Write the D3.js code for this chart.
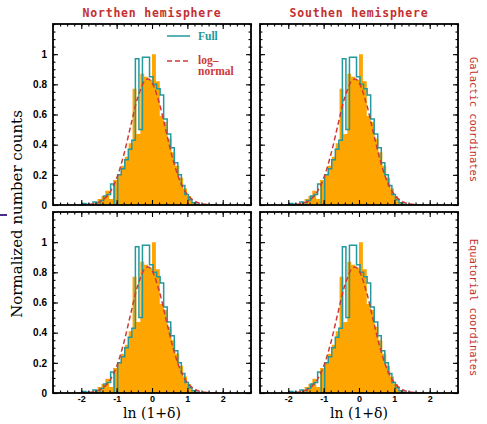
<!DOCTYPE html>
<html>
<head>
<meta charset="utf-8">
<script src="https://cdn.jsdelivr.net/npm/d3@7"></script>
<style>
  body { margin: 0; background: #fff; }
  svg { display: block; }
</style>
</head>
<body>
<svg id="chart" width="487" height="424"></svg>
<script>
// ---- data ---------------------------------------------------------------
// filled histogram: left bin edges in ln(1+delta) and normalized counts
const fillBinWidth = 0.11;
const fillEdges = [-1.87, -1.76, -1.65, -1.54, -1.43, -1.32, -1.21, -1.10, -0.99, -0.88,
                   -0.77, -0.66, -0.55, -0.44, -0.33, -0.22, -0.11, 0.00, 0.11, 0.22,
                   0.33, 0.44, 0.55, 0.66, 0.77, 0.88, 0.99, 1.10, 1.21];
const fillCounts = [0, 0, 0.01, 0.04, 0.06, 0.095, 0.04, 0.165, 0.20, 0.26,
                    0.32, 0.41, 0.77, 0.47, 0.87, 0.85, 0.83, 1.00, 0.82, 0.59,
                    0.55, 0.44, 0.35, 0.26, 0.18, 0.11, 0.06, 0.02, 0.005];

// "Full" step histogram
const stepBinWidth = 0.1;
const stepEdges = [-2.07, -1.97, -1.87, -1.77, -1.67, -1.57, -1.47, -1.37, -1.27, -1.17,
                   -1.07, -0.97, -0.87, -0.77, -0.67, -0.57, -0.47, -0.37, -0.27, -0.17,
                   -0.07, 0.03, 0.13, 0.23, 0.33, 0.43, 0.53, 0.63, 0.73, 0.83,
                   0.93, 1.03, 1.13, 1.23];
const stepCounts = [0, 0.01, 0.005, 0, 0.02, 0, 0.03, 0.06, 0.07, 0.14,
                    0, 0.20, 0.24, 0.30, 0.37, 0.43, 0.97, 0.50, 0.98, 0.98,
                    0.85, 0.80, 0.77, 0.73, 0.57, 0.47, 0.38, 0.28, 0.20, 0.13,
                    0.07, 0.035, 0.015, 0.005];

// log-normal fit
const curveX = [-2.0, -1.8, -1.6, -1.4, -1.2, -1.0, -0.8, -0.6, -0.4, -0.2, -0.1,
                0.0, 0.2, 0.4, 0.6, 0.8, 1.0, 1.2, 1.4, 1.6, 1.8];
const curveY = [0.001, 0.003, 0.01, 0.031, 0.081, 0.177, 0.331, 0.527, 0.714, 0.824, 0.835,
                0.811, 0.68, 0.486, 0.296, 0.154, 0.068, 0.026, 0.008, 0.002, 0.0];

const xTicks = [-2, -1, 0, 1, 2];
const yTicks = [0, 0.2, 0.4, 0.6, 0.8, 1];
const columnTitles = ["Northen hemisphere", "Southen hemisphere"];
const rowTitles = ["Galactic coordinates", "Equatorial coordinates"];
const legendLabels = ["Full", ["log–", "normal"]];
const xLabel = "ln (1+δ)";
const yLabel = "Normalized number counts";

// ---- layout -------------------------------------------------------------
const colX = [53, 260];
const rowY = [24, 212];
const pw = 198, ph = 181;
const xDomain = [-2.8, 2.8];
const yDomain = [0, 1.2];

const ORANGE = "#ffa500";
const TEAL = "#23999c";
const RED = "#cc3a3a";
const TITLE_RED = "#c43030";

const svg = d3.select("#chart");

const x = d3.scaleLinear().domain(xDomain).range([0, pw]);
const y = d3.scaleLinear().domain(yDomain).range([ph, 0]);

const fillPts = fillEdges.map((e, i) => [e, fillCounts[i]])
  .concat([[fillEdges[fillEdges.length - 1] + fillBinWidth, 0]]);
const stepPts = [[stepEdges[0], 0]]
  .concat(stepEdges.map((e, i) => [e, stepCounts[i]]))
  .concat([[stepEdges[stepEdges.length - 1] + stepBinWidth, 0]]);
const curvePts = curveX.map((v, i) => [v, curveY[i]]);

const area = d3.area().curve(d3.curveStepAfter)
  .x(d => x(d[0])).y0(y(0)).y1(d => y(d[1]));
const stepLine = d3.line().curve(d3.curveStepAfter)
  .x(d => x(d[0])).y(d => y(d[1]));
const smooth = d3.line().curve(d3.curveCatmullRom)
  .x(d => x(d[0])).y(d => y(d[1]));

const xMinor = d3.range(-2.8, 2.81, 0.2).map(v => +v.toFixed(1));
const yMinor = d3.range(0, 1.201, 0.05).map(v => +v.toFixed(2));

function tickAxis(g, axisFn, scale, values, size) {
  g.call(axisFn(scale).tickValues(values).tickSize(-size).tickFormat(""))
    .call(s => s.select(".domain").remove())
    .call(s => s.selectAll("line").attr("stroke", "#000").attr("stroke-width", 1.1));
}

for (let r = 0; r < 2; r++) {
  for (let c = 0; c < 2; c++) {
    const g = svg.append("g").attr("transform", `translate(${colX[c]},${rowY[r]})`);
    const clipId = `clip-${r}-${c}`;
    g.append("clipPath").attr("id", clipId)
      .append("rect").attr("width", pw).attr("height", ph);
    const plot = g.append("g").attr("clip-path", `url(#${clipId})`);

    plot.append("path").attr("d", area(fillPts)).attr("fill", ORANGE);
    plot.append("path").attr("d", stepLine(stepPts))
      .attr("fill", "none").attr("stroke", TEAL).attr("stroke-width", 1.5);
    plot.append("path").attr("d", smooth(curvePts))
      .attr("fill", "none").attr("stroke", RED).attr("stroke-width", 1.5)
      .attr("stroke-dasharray", "5,3");

    // inward ticks on all four sides
    tickAxis(g.append("g").attr("transform", `translate(0,${ph})`), d3.axisBottom, x, xMinor, 2.5);
    tickAxis(g.append("g").attr("transform", `translate(0,${ph})`), d3.axisBottom, x, xTicks, 5);
    tickAxis(g.append("g"), d3.axisTop, x, xMinor, 2.5);
    tickAxis(g.append("g"), d3.axisTop, x, xTicks, 5);
    tickAxis(g.append("g"), d3.axisLeft, y, yMinor, 2.5);
    tickAxis(g.append("g"), d3.axisLeft, y, yTicks, 5);
    tickAxis(g.append("g").attr("transform", `translate(${pw},0)`), d3.axisRight, y, yMinor, 2.5);
    tickAxis(g.append("g").attr("transform", `translate(${pw},0)`), d3.axisRight, y, yTicks, 5);

    g.append("rect").attr("width", pw).attr("height", ph)
      .attr("fill", "none").attr("stroke", "#000").attr("stroke-width", 1.8);

    if (c === 0) {
      g.append("g")
        .call(d3.axisLeft(y).tickValues(yTicks).tickSize(0).tickPadding(6)
          .tickFormat(d => String(d)))
        .call(s => s.select(".domain").remove())
        .call(s => s.selectAll("text")
          .attr("font-family", "'Liberation Sans', Arial, sans-serif")
          .attr("font-weight", "bold").attr("font-size", 10).attr("fill", "#000"));
    }
    if (r === 1) {
      g.append("g").attr("transform", `translate(0,${ph})`)
        .call(d3.axisBottom(x).tickValues(xTicks).tickSize(0).tickPadding(2.5)
          .tickFormat(d => String(d)))
        .call(s => s.select(".domain").remove())
        .call(s => s.selectAll("text")
          .attr("font-family", "'Liberation Sans', Arial, sans-serif")
          .attr("font-weight", "bold").attr("font-size", 9).attr("fill", "#000"));
      g.append("text")
        .attr("x", pw / 2).attr("y", ph + 25)
        .attr("text-anchor", "middle")
        .attr("font-family", "'DejaVu Serif', serif").attr("font-size", 14)
        .attr("fill", "#000")
        .text(xLabel);
    }
    if (r === 0) {
      g.append("text")
        .attr("x", pw / 2).attr("y", -7.5)
        .attr("text-anchor", "middle")
        .attr("font-family", "'DejaVu Sans Mono', monospace").attr("font-weight", "bold")
        .attr("font-size", 11.5).attr("letter-spacing", 0.8)
        .attr("fill", TITLE_RED)
        .text(columnTitles[c]);
    }
    if (c === 1) {
      g.append("text")
        .attr("transform", `translate(${pw + 16},${ph / 2 + 5}) rotate(90)`)
        .attr("text-anchor", "middle").attr("dy", "0.35em")
        .attr("font-family", "'DejaVu Sans Mono', monospace")
        .attr("font-size", 10.4).attr("fill", TITLE_RED)
        .text(rowTitles[r]);
    }
    if (r === 0 && c === 0) {
      const lg = g.append("g");
      lg.append("line").attr("x1", 114).attr("x2", 137).attr("y1", 12).attr("y2", 12)
        .attr("stroke", TEAL).attr("stroke-width", 1.5);
      lg.append("text").attr("x", 145).attr("y", 15.5)
        .attr("font-family", "'Liberation Serif', serif").attr("font-weight", "bold")
        .attr("font-size", 11.5).attr("fill", TEAL).text(legendLabels[0]);
      lg.append("line").attr("x1", 114).attr("x2", 137).attr("y1", 37).attr("y2", 37)
        .attr("stroke", RED).attr("stroke-width", 1.5).attr("stroke-dasharray", "5,3");
      legendLabels[1].forEach((t, i) => {
        lg.append("text").attr("x", 145).attr("y", 39.5 + i * 11)
          .attr("font-family", "'Liberation Serif', serif").attr("font-weight", "bold")
          .attr("font-size", 11.5).attr("fill", RED).text(t);
      });
    }
  }
}

// shared y-axis title
svg.append("text")
  .attr("transform", "translate(17,214) rotate(-90)")
  .attr("text-anchor", "middle").attr("dy", "0.35em")
  .attr("font-family", "'DejaVu Serif', serif").attr("font-size", 15)
  .attr("fill", "#000")
  .text(yLabel);

// small mark at the left edge
svg.append("line").attr("x1", 0).attr("x2", 7).attr("y1", 215).attr("y2", 215)
  .attr("stroke", "#4a2a8a").attr("stroke-width", 2);
</script>
</body>
</html>
